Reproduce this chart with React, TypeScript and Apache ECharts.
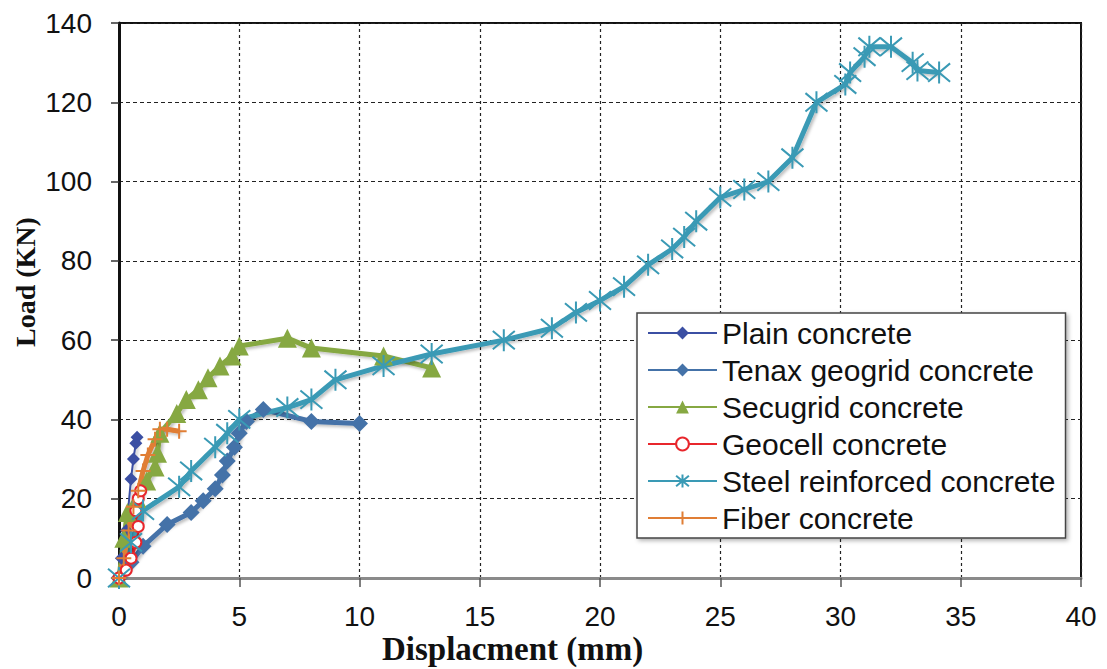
import React, { useEffect, useRef } from "react";
import * as echarts from "echarts";

const xTicks = { min: 0, max: 40, interval: 5 };
const yTicks = { min: 0, max: 140, interval: 20 };

const plainConcrete: number[][] = [
  [0, 0], [0.1, 5], [0.3, 12], [0.5, 25], [0.6, 30], [0.7, 34], [0.75, 35.5],
];
const tenaxGeogrid: number[][] = [
  [0, 0], [0.5, 4], [1, 8], [2, 13.5], [3, 16.5], [3.5, 19.5], [4, 22.5], [4.3, 26],
  [4.5, 29.5], [4.8, 33], [5, 36.5], [5.3, 39.5], [6, 42.5], [8, 39.5], [10, 39],
];
const secugrid: number[][] = [
  [0, 0], [0.2, 10], [0.35, 16.5], [0.75, 20], [1.15, 24.5], [1.5, 28], [1.6, 31.5],
  [1.7, 36.5], [2.4, 41.5], [2.8, 45], [3.3, 47.5], [3.7, 50.5], [4.2, 53.5],
  [4.7, 56], [5, 58.5], [7, 60.5], [8, 58], [11, 56], [13, 53],
];
const geocell: number[][] = [
  [0, 0], [0.3, 2], [0.5, 5], [0.7, 9], [0.8, 13], [0.7, 17], [0.8, 20], [0.9, 22],
];
const steelReinforced: number[][] = [
  [0, 0], [0.5, 9], [1, 17], [2.5, 23], [3, 27], [4, 33], [4.5, 36.5], [5, 40],
  [7, 43], [8, 45], [9, 50], [11, 53.5], [13, 56.5], [16, 60], [18, 63], [19, 67],
  [20, 70], [21, 73.5], [22, 79], [23, 83], [23.5, 86], [24, 90], [25, 96],
  [26, 98], [27, 100], [28, 106], [29, 120], [30.2, 124.5], [30.4, 127.5],
  [31, 131.5], [31.2, 134], [32.1, 134], [33, 130], [33.2, 128], [34.1, 127.5],
];
const fiberConcrete: number[][] = [
  [0, 0], [0.2, 5], [0.4, 12], [0.6, 18], [0.8, 22], [1, 27], [1.2, 31],
  [1.5, 35], [1.7, 37.5], [2, 37.5], [2.5, 37],
];

const seriesNames = [
  "Plain concrete",
  "Tenax geogrid concrete",
  "Secugrid concrete",
  "Geocell concrete",
  "Steel reinforced concrete",
  "Fiber concrete",
];

const asterisk = "path://M0,0L20,20M0,20L20,0M10,-2L10,22";
const plus = "path://M10,0L10,20M0,10L20,10";

const shadow = { shadowColor: "rgba(0,0,0,0.25)", shadowBlur: 3, shadowOffsetX: 2, shadowOffsetY: 2 };

export default function App() {
  const ref = useRef<HTMLDivElement>(null);
  useEffect(() => {
    if (!ref.current) return;
    const chart = echarts.init(ref.current, undefined, { renderer: "svg" });
    const labelFont = { fontFamily: "Liberation Sans, Arial, sans-serif", fontSize: 28, color: "#111" };
    const option: any = {
      animation: false,
      backgroundColor: "#fff",
      grid: {
        left: 119, right: 26, top: 23, bottom: 91,
        show: true, borderColor: "#111", borderWidth: 2, backgroundColor: "transparent",
      },
      xAxis: {
        type: "value", ...xTicks,
        axisLine: { show: true, onZero: false, lineStyle: { color: "#8a8a8a", width: 3 } },
        axisTick: { show: true, length: 9, lineStyle: { color: "#555", width: 1.5 } },
        axisLabel: { ...labelFont, margin: 24 },
        splitLine: { show: true, lineStyle: { color: "#222", type: [3, 3], width: 1.2 } },
      },
      yAxis: {
        type: "value", ...yTicks,
        axisLine: { show: true, lineStyle: { color: "#111", width: 3 } },
        axisTick: { show: true, length: 8, lineStyle: { color: "#333", width: 1.5 } },
        axisLabel: { ...labelFont, margin: 27 },
        splitLine: { show: true, lineStyle: { color: "#222", type: [4, 3], width: 1.2 } },
      },
      legend: {
        orient: "vertical",
        left: 637, top: 313,
        width: 440,
        padding: [5, 10, 5, 10],
        itemWidth: 69, itemHeight: 16, itemGap: 7,
        backgroundColor: "#fff",
        borderColor: "#444", borderWidth: 1.5,
        shadowColor: "rgba(0,0,0,0.3)", shadowBlur: 4, shadowOffsetX: 2, shadowOffsetY: 2,
        textStyle: { fontFamily: "Liberation Sans, Arial, sans-serif", fontSize: 30, color: "#111" },
        data: seriesNames,
      },
      graphic: [
        {
          type: "text", left: 382, top: 632,
          style: { text: "Displacment (mm)", font: "bold 33px 'Liberation Serif', 'Times New Roman', serif", fill: "#111" },
        },
        {
          type: "text", x: 11, y: 347, rotation: Math.PI / 2,
          style: { text: "Load (KN)", font: "bold 28px 'Liberation Serif', 'Times New Roman', serif", fill: "#111" },
        },
      ],
      series: [
        {
          name: seriesNames[0], type: "line", data: plainConcrete,
          lineStyle: { color: "#3B4FA3", width: 2, ...shadow },
          itemStyle: { color: "#3B4FA3" },
          symbol: "diamond", symbolSize: 13,
        },
        {
          name: seriesNames[1], type: "line", data: tenaxGeogrid,
          lineStyle: { color: "#4472A8", width: 5, ...shadow },
          itemStyle: { color: "#4472A8" },
          symbol: "diamond", symbolSize: 17,
        },
        {
          name: seriesNames[2], type: "line", data: secugrid,
          lineStyle: { color: "#86A842", width: 5, ...shadow },
          itemStyle: { color: "#86A842" },
          symbol: "triangle", symbolSize: 19,
        },
        {
          name: seriesNames[3], type: "line", data: geocell,
          lineStyle: { color: "#E8262C", width: 4, ...shadow },
          itemStyle: { color: "#E8262C", borderColor: "#E8262C", borderWidth: 2 },
          symbol: "emptyCircle", symbolSize: 11,
        },
        {
          name: seriesNames[4], type: "line", data: steelReinforced,
          lineStyle: { color: "#3A9AB5", width: 5, ...shadow },
          itemStyle: { color: "#3A9AB5", borderColor: "#3A9AB5", borderWidth: 2 },
          symbol: asterisk, symbolSize: 22,
        },
        {
          name: seriesNames[5], type: "line", data: fiberConcrete,
          lineStyle: { color: "#E07E35", width: 5, ...shadow },
          itemStyle: { color: "#E07E35", borderColor: "#E07E35", borderWidth: 2 },
          symbol: plus, symbolSize: 15,
        },
      ],
    };
    chart.setOption(option);
    return () => chart.dispose();
  }, []);
  return (
    <div
      ref={ref}
      style={{ position: "fixed", left: 0, top: 0, width: 1107, height: 669, background: "#fff" }}
    />
  );
}
